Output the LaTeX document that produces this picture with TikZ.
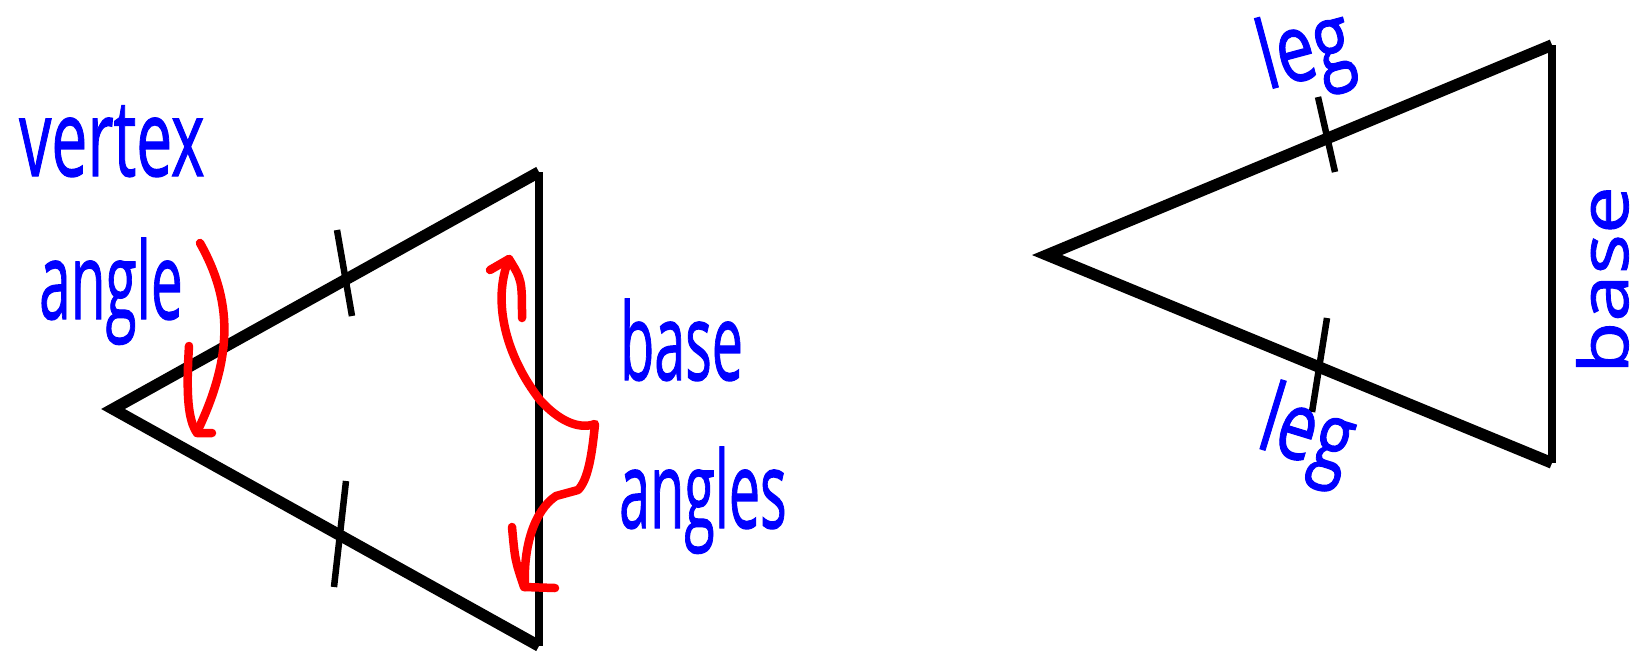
\documentclass[tikz,border=0pt]{standalone}
\usepackage{fontspec}
\usepackage{graphicx}
\newfontfamily\handfont[FakeBold=1.2]{Open Sans}
\definecolor{lblue}{RGB}{0,0,255}
\definecolor{lred}{RGB}{255,0,0}
\begin{document}
\begin{tikzpicture}[x=1pt,y=-1pt,
  side/.style={line width=11.5pt, line join=miter, line cap=butt},
  baseside/.style={line width=7.5pt},
  tickmark/.style={line width=6.5pt},
  redmark/.style={draw=lred, line width=8.5pt, line cap=round, line join=round},
  lbl/.style={text=lblue, inner sep=0pt, font=\handfont\fontsize{107}{110}\selectfont},
  lblsmall/.style={text=lblue, inner sep=0pt, font=\handfont\fontsize{68}{70}\selectfont},
  lblleg/.style={text=lblue, inner sep=0pt, font=\handfont\fontsize{95}{98}\selectfont},
]
\fill[white] (0,0) rectangle (1645,654);
\useasboundingbox (0,0) rectangle (1645,654);

% left triangle
\coordinate (LV) at (113,409);
\coordinate (LT) at (539,172);
\coordinate (LB) at (539,646);
\draw[baseside] (LT) -- (LB);
\draw[side] (LT) -- (LV) -- (LB);
\coordinate (t1a) at (337,230);
\coordinate (t1b) at (352,316);
\coordinate (t2a) at (346,481);
\coordinate (t2b) at (334,587);
\draw[tickmark] (t1a) -- (t1b);
\draw[tickmark] (t2a) -- (t2b);

% right triangle
\coordinate (RV) at (1047,255);
\coordinate (RT) at (1552,45);
\coordinate (RB) at (1552,463);
\draw[baseside] (RT) -- (RB);
\draw[side] (RT) -- (RV) -- (RB);
\coordinate (t3a) at (1318,97);
\coordinate (t3b) at (1335,172);
\coordinate (t4a) at (1327,318);
\coordinate (t4b) at (1312,412);
\draw[tickmark] (t3a) -- (t3b);
\draw[tickmark] (t4a) -- (t4b);

% red arrow, vertex angle
\draw[redmark] (200,243) .. controls (232,300) and (234,355) .. (197,432);
\draw[redmark] (189,346) .. controls (186,395) and (188,420) .. (197,433) -- (212,433);

% red arrows, base angles
\draw[redmark] (490,270) -- (509,259) .. controls (522,280) .. (522,318);
\draw[redmark] (509,259) .. controls (492,300) and (505,355) .. (540,400)
  .. controls (558,420) and (578,430) .. (595,424)
  .. controls (592,455) and (588,480) .. (578,490) -- (556,496)
  .. controls (535,510) and (523,545) .. (525,587);
\draw[redmark] (512,527) .. controls (515,560) .. (524,587) -- (555,588);

% labels
\node[lbl, anchor=base west] (vtx) at (19,176) {\scalebox{0.6}[1]{vertex}};
\node[lbl, anchor=base west] (ang) at (39,319) {\scalebox{0.53}[1]{angle}};
\node[lbl, anchor=base west] (bs) at (620,380) {\scalebox{0.52}[1]{base}};
\node[lbl, anchor=base west] (angs) at (619,528) {\scalebox{0.52}[1]{angles}};
\node[lblsmall, anchor=base west, rotate=90] (rbase) at (1628,374) {\scalebox{1.25}[1]{base}};
\node[lblleg, rotate=15] (leg1) at (1306,54) {\scalebox{0.72}[1]{leg}};
\node[lblleg, rotate=-17] (leg2) at (1306,437) {\scalebox{0.72}[1]{leg}};
\end{tikzpicture}
\end{document}
